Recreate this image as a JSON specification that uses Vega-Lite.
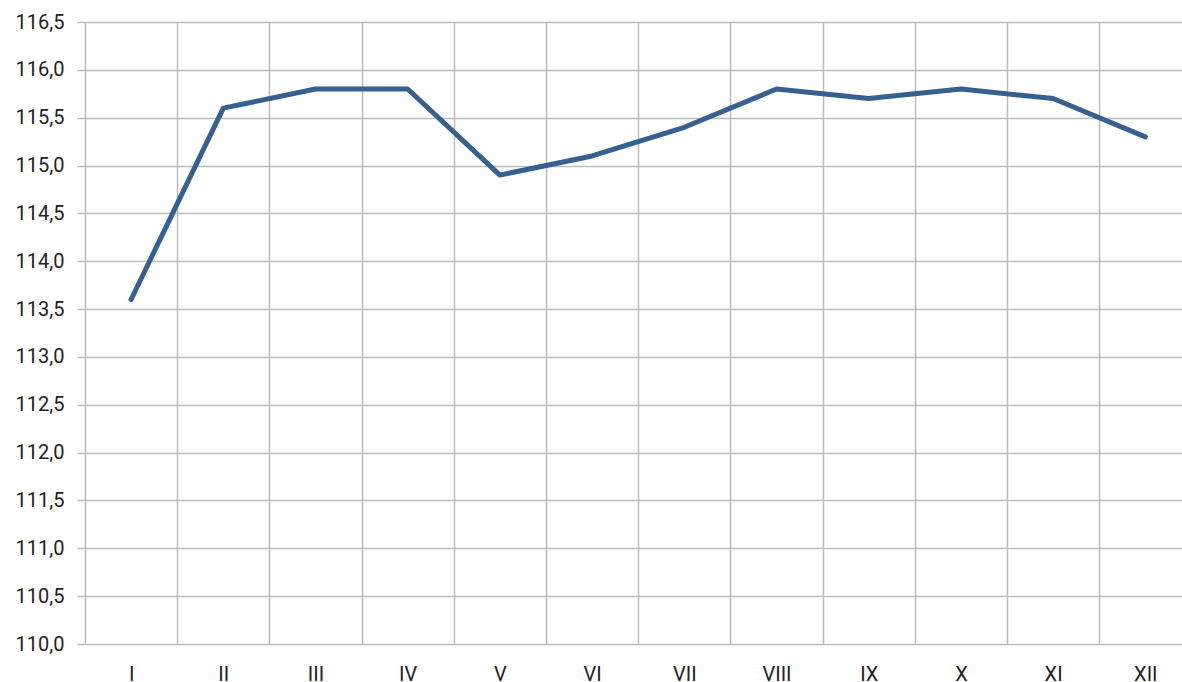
{
  "$schema": "https://vega.github.io/schema/vega-lite/v6.json",
  "width": 1097,
  "height": 622,
  "autosize": "none",
  "padding": {"left": 85, "top": 22, "right": 0, "bottom": 38},
  "background": "white",
  "config": {
    "view": {"stroke": null},
    "font": "Roboto",
    "axis": {"labelFont": "Roboto", "labelFontSize": 20, "labelColor": "#222222", "gridColor": "#bcbcbc", "gridWidth": 1.5, "gridOpacity": 1, "title": null}
  },
  "data": {
    "values": [
      {"month": "I", "idx": 1, "value": 113.6},
      {"month": "II", "idx": 2, "value": 115.6},
      {"month": "III", "idx": 3, "value": 115.8},
      {"month": "IV", "idx": 4, "value": 115.8},
      {"month": "V", "idx": 5, "value": 114.9},
      {"month": "VI", "idx": 6, "value": 115.1},
      {"month": "VII", "idx": 7, "value": 115.4},
      {"month": "VIII", "idx": 8, "value": 115.8},
      {"month": "IX", "idx": 9, "value": 115.7},
      {"month": "X", "idx": 10, "value": 115.8},
      {"month": "XI", "idx": 11, "value": 115.7},
      {"month": "XII", "idx": 12, "value": 115.3}
    ]
  },
  "resolve": {"axis": {"x": "independent"}},
  "layer": [
    {
      "mark": {"type": "line", "opacity": 0},
      "encoding": {
        "x": {
          "field": "idx", "type": "quantitative",
          "scale": {"domain": [0.5, 12.398], "nice": false, "zero": false},
          "axis": {"orient": "top", "values": [0.5, 1.5, 2.5, 3.5, 4.5, 5.5, 6.5, 7.5, 8.5, 9.5, 10.5, 11.5], "grid": true, "labels": false, "ticks": false, "domain": false}
        },
        "y": {"field": "value", "type": "quantitative"}
      }
    },
    {
      "mark": {"type": "line", "color": "#35608f", "strokeWidth": 5, "strokeCap": "round", "strokeJoin": "round"},
      "encoding": {
        "x": {
          "field": "idx", "type": "quantitative",
          "scale": {"domain": [0.5, 12.398], "nice": false, "zero": false},
          "axis": {"orient": "bottom", "values": [1, 2, 3, 4, 5, 6, 7, 8, 9, 10, 11, 12], "grid": false, "ticks": false, "domain": false, "labelPadding": 20, "labelExpr": "['I','II','III','IV','V','VI','VII','VIII','IX','X','XI','XII'][datum.value - 1]"}
        },
        "y": {
          "field": "value", "type": "quantitative",
          "scale": {"domain": [110, 116.5], "nice": false, "zero": false},
          "axis": {"values": [110, 110.5, 111, 111.5, 112, 112.5, 113, 113.5, 114, 114.5, 115, 115.5, 116, 116.5], "grid": true, "domain": false, "ticks": true, "tickSize": 8, "tickColor": "#bcbcbc", "tickWidth": 1.5, "labelPadding": 13, "labelExpr": "replace(format(datum.value, '.1f'), '.', ',')"}
        }
      }
    }
  ]
}
